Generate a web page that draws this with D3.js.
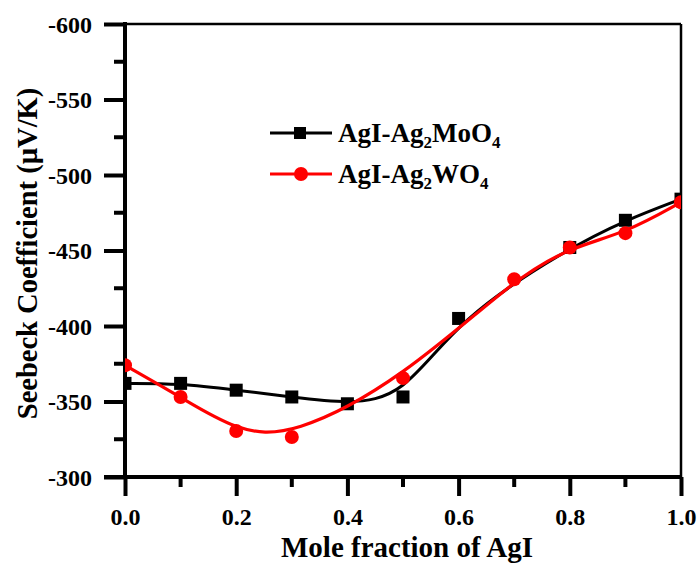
<!DOCTYPE html>
<html>
<head>
<meta charset="utf-8">
<script src="https://cdn.jsdelivr.net/npm/d3@7"></script>
<style>
  html, body { margin: 0; padding: 0; background: #fff; }
  svg { display: block; }
  text { font-family: "Liberation Serif", "Times New Roman", serif; font-weight: bold; fill: #000; }
</style>
</head>
<body>
<svg id="chart" width="697" height="563"></svg>
<script>
// Seebeck coefficient vs. mole fraction of AgI
const moX   = [0.0, 0.1, 0.2, 0.3, 0.4, 0.5, 0.6, 0.8, 0.9, 1.0];
const moY   = [-362, -362, -357.5, -353, -348.5, -353, -405, -452, -470, -484];
const wX    = [0.0, 0.1, 0.2, 0.3, 0.5, 0.7, 0.8, 0.9, 1.0];
const wY    = [-374, -353, -330.5, -326.5, -365.5, -431, -452, -461.5, -482];
const xTicks = [0.0, 0.2, 0.4, 0.6, 0.8, 1.0];
const yTicks = [-600, -550, -500, -450, -400, -350, -300];
const seriesNames = ["AgI-Ag", "MoO", "WO"];

const svg = d3.select("#chart");
const L = 125, R = 681, T = 24, B = 477;

const x = d3.scaleLinear().domain([0, 1]).range([L, R]);
const y = d3.scaleLinear().domain([-600, -300]).range([T, B]);

// clip region for the data
svg.append("defs").append("clipPath").attr("id", "plotClip")
  .append("rect").attr("x", L).attr("y", T).attr("width", R - L).attr("height", B - T);

// frame: thin top and right edges
svg.append("line").attr("x1", L).attr("x2", R).attr("y1", T).attr("y2", T)
  .attr("stroke", "#000").attr("stroke-width", 2.5);
svg.append("line").attr("x1", R).attr("x2", R).attr("y1", T).attr("y2", B)
  .attr("stroke", "#000").attr("stroke-width", 2.5);

// y axis (plain hyphen for negatives)
const yAxis = d3.axisLeft(y).tickValues(yTicks).tickFormat(d => String(d)).tickSize(21).tickPadding(12);
const gy = svg.append("g").attr("transform", `translate(${L},0)`).call(yAxis);
gy.select(".domain").attr("stroke-width", 4).attr("d", `M0,${T - 2}V${B + 2}`);
gy.selectAll(".tick line").attr("stroke-width", 4);
gy.selectAll(".tick text").style("font-size", "24px").attr("dy", "0.34em");
// y minor ticks
const yMinor = d3.range(-575, -300, 50);
svg.append("g").selectAll("line").data(yMinor).join("line")
  .attr("x1", L - 11).attr("x2", L).attr("y1", d => y(d)).attr("y2", d => y(d))
  .attr("stroke", "#000").attr("stroke-width", 4);

// x axis
const xAxis = d3.axisBottom(x).tickValues(xTicks).tickFormat(d3.format(".1f")).tickSize(19).tickPadding(12);
const gx = svg.append("g").attr("transform", `translate(0,${B})`).call(xAxis);
gx.select(".domain").attr("stroke-width", 4).attr("d", `M${L - 21},0H${R + 1}`);
gx.selectAll(".tick line").attr("stroke-width", 4);
gx.selectAll(".tick text").style("font-size", "24px");
const xMinor = d3.range(0.1, 1, 0.2);
svg.append("g").selectAll("line").data(xMinor).join("line")
  .attr("x1", d => x(d)).attr("x2", d => x(d)).attr("y1", B).attr("y2", B + 10)
  .attr("stroke", "#000").attr("stroke-width", 4);

// axis titles
svg.append("text").attr("x", (L + R) / 2 + 4).attr("y", 557)
  .attr("text-anchor", "middle").style("font-size", "29px").text("Mole fraction of AgI");
svg.append("text").attr("transform", `translate(37,${(T + B) / 2 + 3}) rotate(-90)`)
  .attr("text-anchor", "middle").style("font-size", "28.5px").text("Seebeck Coefficient (\u00b5V/K)");

// data
const plot = svg.append("g").attr("clip-path", "url(#plotClip)");
const moData = moX.map((v, i) => [v, moY[i]]);
const wData = wX.map((v, i) => [v, wY[i]]);
const line = d3.line().x(d => x(d[0])).y(d => y(d[1])).curve(d3.curveBasis);

plot.append("path").datum(moData).attr("d", line)
  .attr("fill", "none").attr("stroke", "#000").attr("stroke-width", 3);
plot.append("g").selectAll("rect").data(moData).join("rect")
  .attr("x", d => x(d[0]) - 6.5).attr("y", d => y(d[1]) - 6.5)
  .attr("width", 13).attr("height", 13).attr("fill", "#000");

plot.append("path").datum(wData).attr("d", line)
  .attr("fill", "none").attr("stroke", "#ff0000").attr("stroke-width", 3.2);
plot.append("g").selectAll("circle").data(wData).join("circle")
  .attr("cx", d => x(d[0])).attr("cy", d => y(d[1])).attr("r", 7)
  .attr("fill", "#ff0000");

// legend
const leg = svg.append("g");
const legRows = [
  { color: "#000", shape: "square", main: seriesNames[1], y: 133 },
  { color: "#ff0000", shape: "circle", main: seriesNames[2], y: 174 }
];
legRows.forEach(r => {
  leg.append("line").attr("x1", 270).attr("x2", 332).attr("y1", r.y).attr("y2", r.y)
    .attr("stroke", r.color).attr("stroke-width", 3);
  if (r.shape === "square") {
    leg.append("rect").attr("x", 300 - 6).attr("y", r.y - 6).attr("width", 12).attr("height", 12).attr("fill", r.color);
  } else {
    leg.append("circle").attr("cx", 301).attr("cy", r.y).attr("r", 7).attr("fill", r.color);
  }
  const t = leg.append("text").attr("x", 338).attr("y", r.y + 9).style("font-size", "27px");
  t.append("tspan").text(seriesNames[0]);
  t.append("tspan").attr("dy", 6).style("font-size", "17px").text("2");
  t.append("tspan").attr("dy", -6).text(r.main);
  t.append("tspan").attr("dy", 6).style("font-size", "17px").text("4");
});
</script>
</body>
</html>
